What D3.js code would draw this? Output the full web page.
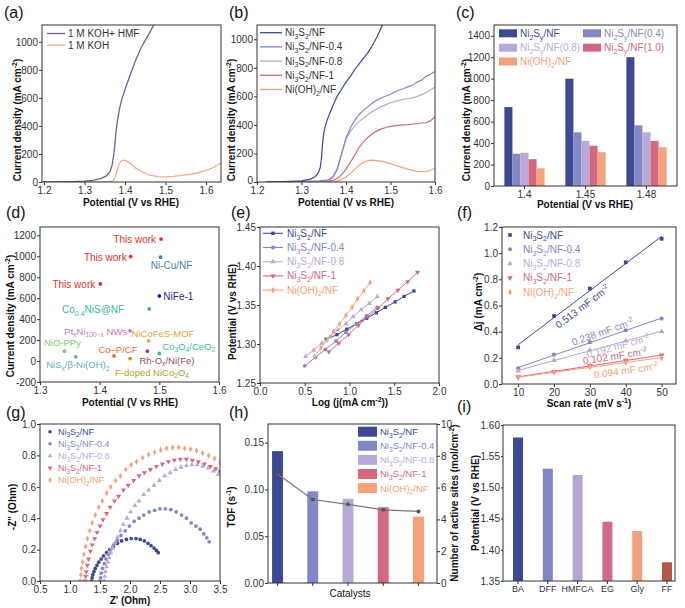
<!DOCTYPE html>
<html><head><meta charset="utf-8">
<script src="https://cdn.jsdelivr.net/npm/d3@7"></script>
<style>body{margin:0;background:#fff}svg{display:block}</style>
</head><body><svg id="chart" width="685" height="608"></svg>
<script>
// ================= DATA =================
// (a)
const aNames = ["1 M KOH+ HMF", "1 M KOH"];
const aHMF_V = [1.195,1.23,1.27,1.30,1.32,1.34,1.355,1.363,1.368,1.372,1.375,1.378,1.382,1.387,1.393,1.40,1.412,1.425,1.44,1.45,1.46,1.471];
const aHMF_J = [0,1,3,6,12,24,45,75,120,190,270,370,450,530,600,660,760,860,960,1010,1060,1120];
const aKOH_V = [1.195,1.25,1.30,1.34,1.36,1.37,1.375,1.38,1.385,1.39,1.396,1.403,1.41,1.42,1.43,1.445,1.46,1.48,1.50,1.52,1.54,1.56,1.58,1.60,1.62,1.637];
const aKOH_J = [0,0,0,1,3,8,30,80,125,148,155,150,138,115,92,68,50,38,36,40,48,55,66,82,105,135];

// (b)
const sNames = ["Ni_{3}S_{2}/NF","Ni_{3}S_{2}/NF-0.4","Ni_{3}S_{2}/NF-0.8","Ni_{3}S_{2}/NF-1","Ni(OH)_{2}/NF"];
const bV = [
  [1.22,1.26,1.30,1.32,1.33,1.337,1.342,1.345,1.347,1.350,1.355,1.362,1.370,1.380,1.390,1.400,1.410,1.420,1.430,1.440,1.450,1.460,1.470,1.482],
  [1.22,1.30,1.34,1.36,1.37,1.38,1.39,1.40,1.41,1.42,1.43,1.44,1.45,1.46,1.47,1.48,1.49,1.50,1.51,1.52,1.53,1.54,1.55,1.56,1.57,1.58,1.59,1.60],
  [1.22,1.30,1.34,1.36,1.37,1.38,1.39,1.40,1.41,1.42,1.43,1.44,1.45,1.46,1.47,1.48,1.49,1.50,1.51,1.52,1.53,1.54,1.55,1.56,1.57,1.58,1.59,1.60],
  [1.22,1.30,1.35,1.37,1.38,1.39,1.40,1.41,1.42,1.43,1.44,1.45,1.46,1.47,1.48,1.49,1.50,1.52,1.54,1.56,1.58,1.59,1.60],
  [1.22,1.30,1.36,1.38,1.39,1.40,1.41,1.42,1.43,1.44,1.45,1.46,1.47,1.48,1.49,1.50,1.52,1.54,1.56,1.58,1.60]
];
const bJ = [
  [0,3,8,20,35,60,100,170,260,340,410,470,530,600,650,700,740,790,830,870,910,960,1020,1100],
  [0,3,8,15,35,90,200,310,380,435,475,505,530,555,575,590,603,615,632,645,655,668,680,700,715,740,755,775],
  [0,2,6,12,28,80,190,300,355,395,425,450,475,495,512,528,542,555,565,572,580,585,590,600,612,625,645,665],
  [0,2,5,12,25,50,90,140,190,245,285,315,340,358,372,382,390,398,402,410,415,430,455],
  [0,1,3,8,18,35,60,90,118,140,150,153,150,145,138,128,108,88,75,72,95]
];

// (c)
const cCats = ["1.4","1.45","1.48"];
const cNames = ["Ni_{2}S_{y}/NF","Ni_{2}S_{y}/NF(0.4)","Ni_{2}S_{y}/NF(0.8)","Ni_{2}S_{y}/NF(1.0)","Ni(OH)_{2}/NF"];
const cVals = [[735,1000,1200],[300,500,565],[310,420,500],[250,375,420],[165,315,360]];

// (d)
const dNames = ["This work","This work","This work","Ni-Cu/NF","NiFe-1","Co_{0.4}NiS@NF","Pt_{x}Ni_{100−x} NWs","NiCoFeS-MOF","NiO-PPy","NiS_{x}/β-Ni(OH)_{2}","Co–P/CF","Rh-O_{x}/Ni(Fe)","Co_{3}O_{4}/CeO_{2}","F-doped NiCo_{2}O_{4}"];
const dPot = [1.503,1.452,1.401,1.502,1.50,1.483,1.451,1.482,1.341,1.36,1.424,1.48,1.50,1.451];
const dCur = [1165,998,736,992,621,497,289,193,94,40,49,94,72,24];

// (e)
const eX = [
  [0.74,0.86,0.97,1.08,1.19,1.30,1.40,1.51,1.61,1.72],
  [0.50,0.62,0.73,0.85,0.96,1.08,1.19,1.31],
  [0.51,0.60,0.69,0.78,0.87,0.96,1.04,1.13,1.22,1.31],
  [0.77,0.88,0.99,1.10,1.21,1.32,1.43,1.54,1.65,1.76],
  [0.61,0.68,0.75,0.82,0.89,0.96,1.03,1.09,1.16,1.23]
];
const eY = [
  [1.306,1.312,1.319,1.326,1.333,1.340,1.347,1.354,1.361,1.368],
  [1.272,1.283,1.293,1.304,1.315,1.326,1.336,1.347],
  [1.284,1.292,1.301,1.309,1.318,1.326,1.335,1.344,1.352,1.361],
  [1.290,1.301,1.312,1.324,1.335,1.346,1.358,1.369,1.380,1.392],
  [1.284,1.295,1.305,1.316,1.326,1.337,1.347,1.358,1.368,1.379]
];

// (f)
const fRate = [10,20,30,40,50];
const fDj = [
  [0.28,0.52,0.73,0.93,1.11],
  [0.12,0.225,0.32,0.41,0.50],
  [0.10,0.18,0.26,0.33,0.40],
  [0.055,0.095,0.14,0.18,0.22],
  [0.05,0.09,0.13,0.165,0.20]
];
const fCdl = ["0.513 mF cm^{-2}","0.238 mF cm^{-2}","0.192 mF cm^{-2}","0.102 mF cm^{-2}","0.094 mF cm^{-2}"];

// (g)
const gZre = [
  [1.36,1.37,1.38,1.40,1.42,1.45,1.48,1.52,1.56,1.61,1.66,1.72,1.79,1.86,1.94,2.02,2.10,2.17,2.24,2.30,2.35,2.40,2.44,2.47],
  [1.50,1.51,1.52,1.54,1.57,1.60,1.64,1.68,1.73,1.79,1.85,1.92,1.99,2.07,2.15,2.23,2.32,2.41,2.50,2.59,2.68,2.77,2.86,2.94,3.02,3.10,3.17,3.23,3.28,3.32],
  [1.57,1.58,1.59,1.61,1.63,1.65,1.68,1.71,1.75,1.79,1.84,1.89,1.95,2.01,2.08,2.15,2.23,2.31,2.40,2.49,2.58,2.67,2.76,2.85,2.94,3.03,3.12,3.21,3.30,3.39,3.47],
  [1.25,1.26,1.27,1.29,1.31,1.34,1.37,1.41,1.45,1.50,1.55,1.61,1.67,1.74,1.81,1.89,1.97,2.06,2.15,2.24,2.34,2.44,2.54,2.64,2.74,2.84,2.94,3.04,3.14,3.24,3.34,3.43,3.50],
  [1.17,1.18,1.19,1.21,1.23,1.26,1.29,1.33,1.37,1.42,1.48,1.54,1.61,1.68,1.76,1.84,1.93,2.02,2.11,2.21,2.31,2.41,2.51,2.61,2.71,2.81,2.91,3.01,3.11,3.21,3.31,3.41,3.50]
];
const gZim = [
  [0.00,0.02,0.04,0.06,0.08,0.10,0.12,0.14,0.16,0.18,0.20,0.22,0.24,0.255,0.265,0.27,0.27,0.265,0.255,0.24,0.225,0.21,0.195,0.18],
  [0.00,0.02,0.05,0.08,0.11,0.14,0.17,0.20,0.23,0.26,0.29,0.32,0.35,0.38,0.40,0.42,0.44,0.45,0.46,0.46,0.455,0.44,0.42,0.40,0.37,0.35,0.33,0.30,0.275,0.25],
  [0.00,0.03,0.06,0.09,0.12,0.15,0.18,0.21,0.245,0.28,0.32,0.36,0.40,0.44,0.48,0.51,0.55,0.58,0.61,0.64,0.67,0.69,0.71,0.725,0.735,0.74,0.74,0.73,0.72,0.70,0.68],
  [0.00,0.03,0.06,0.10,0.14,0.19,0.23,0.27,0.31,0.35,0.39,0.43,0.47,0.51,0.54,0.58,0.61,0.64,0.67,0.69,0.71,0.73,0.745,0.76,0.77,0.775,0.775,0.77,0.76,0.745,0.73,0.715,0.70],
  [0.00,0.04,0.08,0.12,0.17,0.22,0.27,0.32,0.37,0.42,0.47,0.51,0.56,0.60,0.64,0.67,0.71,0.74,0.76,0.785,0.805,0.82,0.835,0.845,0.85,0.85,0.845,0.84,0.83,0.815,0.80,0.78,0.755]
];

// (h)
const hTOF = [0.141,0.098,0.090,0.081,0.071];
const hSites = [6.85,5.25,4.95,4.6,4.5];

// (i)
const iCats = ["BA","DFF","HMFCA","EG","Gly","FF"];
const iPot = [1.58,1.53,1.52,1.445,1.43,1.38];

// ================= STYLE =================
const FONT = '"Liberation Sans", Arial, Helvetica, sans-serif';
const TFS = 10;
const C5 = ["#3d4a93","#8287c6","#b8aad7","#d4687f","#f5a27c"];
const aColors = ["#646a8e","#f8a98b"];
const iColors = ["#3c4a94","#8086c6","#b4a6d4","#d06a86","#f2a07e","#b0584a"];
const dColors = ["#d9342b","#d9342b","#d9342b","#4a7fa0","#1f2a8a","#3cb89a","#c678b8","#e8a040","#7ccc6a","#6aa8c8","#f26a3a","#9a4a50","#2fbf9a","#b0a21a"];
const dLab = [[-5,4,"end"],[-4,4,"end"],[-5,4,"end"],[11,12,"middle"],[4,4,"start"],[-25,4,"end"],[-3,4,"end"],[-17,-4,"start"],[-2,-5,"middle"],[2,11,"middle"],[4,-3,"middle"],[-8,12.5,"start"],[3,-4,"start"],[-15,17,"start"]];
const dFs = [10,10,10,10,10,10,9.5,9.5,9.5,9.5,9.5,9.5,9.5,9.5];
const syms = [d3.symbolSquare, d3.symbolCircle, d3.symbolTriangle, d3.symbolTriangle, d3.symbolDiamond];
const symRot = [0,0,0,180,0];

const svg = d3.select("#chart");

function rich(t, s, fs) {
  const parts = s.split(/(_\{[^}]*\}|\^\{[^}]*\})/).filter(p => p !== "");
  let cur = 0;
  parts.forEach(p => {
    let tx = p, off = 0, size = null;
    if (p.startsWith("_{")) { tx = p.slice(2, -1); off = fs * 0.28; size = fs * 0.7; }
    else if (p.startsWith("^{")) { tx = p.slice(2, -1); off = -fs * 0.38; size = fs * 0.7; }
    const ts = t.append("tspan").text(tx);
    if (off - cur !== 0) ts.attr("dy", off - cur);
    if (size) ts.attr("font-size", size);
    cur = off;
  });
  return t;
}
function txt(g, x, y, s, o = {}) {
  const size = o.size || 10;
  const t = g.append("text").attr("x", x).attr("y", y).attr("font-size", size)
    .attr("font-weight", o.weight || "normal").attr("text-anchor", o.anchor || "start")
    .attr("fill", o.fill || "#222").attr("font-family", FONT);
  if (o.rotate) t.attr("transform", `rotate(${o.rotate},${x},${y})`);
  return rich(t, s, size);
}
function ytitle(cx, cy, s, size = 10) {
  txt(svg, cx + size * 0.35, cy, s, {size, weight: "bold", anchor: "middle", rotate: -90, fill: "#111"});
}
function xtitle(cx, by, s, weight = "bold", size = 10) {
  txt(svg, cx, by, s, {size, weight, anchor: "middle", fill: "#111"});
}
function plabel(x, y, s) { txt(svg, x, y, s, {size: 16, fill: "#111"}); }

let clipId = 0;
function panel(L, T, R, B) {
  const g = svg.append("g").attr("transform", `translate(${L},${T})`);
  const w = R - L, h = B - T;
  const id = "clip" + (clipId++);
  g.append("clipPath").attr("id", id).append("rect").attr("width", w).attr("height", h);
  const plot = g.append("g").attr("clip-path", `url(#${id})`);
  return {g, plot, w, h};
}
function styleAxis(a, fs) {
  a.select(".domain").remove();
  a.selectAll("line").attr("stroke", "#333");
  a.selectAll("text").attr("font-size", fs).attr("fill", "#333").attr("font-family", FONT);
}
function axes(p, x, y, o) {
  const fs = o.fs || TFS;
  const gx = p.g.append("g").attr("transform", `translate(0,${p.h})`)
    .call(d3.axisBottom(x).tickValues(o.xt).tickFormat(o.xf).tickSize(3).tickPadding(2));
  const gy = p.g.append("g")
    .call(d3.axisLeft(y).tickValues(o.yt).tickFormat(o.yf).tickSize(o.ytick ?? 3).tickPadding(1));
  styleAxis(gx, o.xfs || fs); styleAxis(gy, fs);
  if (o.y0up) gy.selectAll(".tick text").filter(d => d === o.yt[0]).attr("dy", "0.1em");
  p.g.append("rect").attr("width", p.w).attr("height", p.h).attr("fill", "none").attr("stroke", "#333").attr("stroke-width", 1);
}
function sym(g, type, size, rot, x, y, color) {
  g.append("path").attr("d", d3.symbol().type(type).size(size)())
    .attr("transform", `translate(${x},${y}) rotate(${rot})`).attr("fill", color);
}
function zip(xs, ys) { return xs.map((v, i) => [v, ys[i]]); }

// ================= (a) =================
{
  const p = panel(42, 25, 221, 182);
  const x = d3.scaleLinear().domain([1.195, 1.637]).range([0, p.w]);
  const y = d3.scaleLinear().domain([0, 1120]).range([p.h, 0]);
  const line = d3.line().x(d => x(d[0])).y(d => y(d[1]));
  p.plot.append("path").attr("d", line(zip(aKOH_V, aKOH_J))).attr("fill", "none").attr("stroke", aColors[1]).attr("stroke-width", 1.3);
  p.plot.append("path").attr("d", line(zip(aHMF_V, aHMF_J))).attr("fill", "none").attr("stroke", aColors[0]).attr("stroke-width", 1.3);
  axes(p, x, y, {xt: [1.2,1.3,1.4,1.5,1.6], xf: d3.format(".1f"), yt: [0,200,400,600,800,1000], yf: d => d});
  aNames.forEach((n, i) => {
    const yy = 8.5 + i * 11.7;
    p.g.append("line").attr("x1", 5).attr("x2", 23).attr("y1", yy).attr("y2", yy).attr("stroke", aColors[i]).attr("stroke-width", 1.3);
    txt(p.g, 26, yy + 3.6, n, {size: 10, fill: "#333"});
  });
  plabel(4, 18, "(a)");
  ytitle(17, 120, "Current density (mA cm^{-2})");
  xtitle(131, 206, "Potential (V vs RHE)");
}

// ================= (b) =================
{
  const p = panel(257, 25, 435, 182);
  const x = d3.scaleLinear().domain([1.2, 1.6]).range([0, p.w]);
  const y = d3.scaleLinear().domain([0, 1100]).range([p.h, 0]);
  const line = d3.line().x(d => x(d[0])).y(d => y(d[1]));
  for (let s = 4; s >= 0; s--) {
    p.plot.append("path").attr("d", line(zip(bV[s], bJ[s]))).attr("fill", "none").attr("stroke", C5[s]).attr("stroke-width", 1.2);
  }
  axes(p, x, y, {xt: [1.2,1.3,1.4,1.5,1.6], xf: d3.format(".1f"), yt: [0,200,400,600,800,1000], yf: d => d, y0up: true});
  sNames.forEach((n, i) => {
    const yy = 7.7 + i * 14.2;
    p.g.append("line").attr("x1", 3).attr("x2", 25).attr("y1", yy).attr("y2", yy).attr("stroke", C5[i]).attr("stroke-width", 1.3);
    txt(p.g, 28, yy + 3.5, n, {size: 10, fill: "#333"});
  });
  plabel(229, 18, "(b)");
  ytitle(231, 120, "Current density (mA cm^{-2})");
  xtitle(346, 206, "Potential (V vs RHE)");
}

// ================= (c) =================
{
  const p = panel(494, 25, 677, 186);
  const x0 = d3.scaleBand().domain(cCats).range([0, p.w]).paddingInner(0.34).paddingOuter(0.17);
  const x1 = d3.scaleBand().domain(d3.range(5)).range([0, x0.bandwidth()]);
  const y = d3.scaleLinear().domain([0, 1500]).range([p.h, 0]);
  cVals.forEach((vals, s) => {
    vals.forEach((v, k) => {
      p.plot.append("rect").attr("x", x0(cCats[k]) + x1(s)).attr("width", x1.bandwidth())
        .attr("y", y(v)).attr("height", p.h - y(v)).attr("fill", C5[s]);
    });
  });
  axes(p, x0, y, {xt: cCats, xf: d => d, yt: [0,200,400,600,800,1000,1200,1400], yf: d => d});
  const pos = [[5,8.3],[89,8.3],[5,22.7],[89,22.7],[5,36.5]];
  cNames.forEach((n, i) => {
    p.g.append("rect").attr("x", pos[i][0]).attr("y", pos[i][1] - 4).attr("width", 18).attr("height", 8).attr("fill", C5[i]);
    txt(p.g, pos[i][0] + 21, pos[i][1] + 3.6, n, {size: 10, fill: C5[i]});
  });
  plabel(456, 18, "(c)");
  ytitle(466, 120, "Current density (mA cm^{-2})");
  xtitle(585, 208, "Potential (V vs RHE)");
}

// ================= (d) =================
{
  const p = panel(40, 227, 219, 382);
  const x = d3.scaleLinear().domain([1.3, 1.6]).range([0, p.w]);
  const y = d3.scaleLinear().domain([-200, 1280]).range([p.h, 0]);
  axes(p, x, y, {xt: [1.3,1.4,1.5,1.6], xf: d3.format(".1f"), yt: [-200,0,200,400,600,800,1000,1200], yf: d => String(d)});
  dNames.forEach((n, i) => {
    const px = x(dPot[i]), py = y(dCur[i]);
    p.g.append("circle").attr("cx", px).attr("cy", py).attr("r", 1.9).attr("fill", dColors[i]);
    txt(p.g, px + dLab[i][0], py + dLab[i][1], n, {size: dFs[i], fill: dColors[i], anchor: dLab[i][2]});
  });
  plabel(6, 218, "(d)");
  ytitle(10, 316, "Current density (mA cm^{-2})");
  xtitle(130, 406, "Potential (V vs RHE)");
}

// ================= (e) =================
{
  const p = panel(260, 227, 439, 383);
  const x = d3.scaleLinear().domain([0, 2]).range([0, p.w]);
  const y = d3.scaleLinear().domain([1.25, 1.45]).range([p.h, 0]);
  const line = d3.line().x(d => x(d[0])).y(d => y(d[1]));
  for (let s = 0; s < 5; s++) {
    p.plot.append("path").attr("d", line(zip(eX[s], eY[s]))).attr("fill", "none").attr("stroke", C5[s]).attr("stroke-width", 1);
    eX[s].forEach((v, k) => sym(p.plot, syms[s], 11, symRot[s], x(v), y(eY[s][k]), C5[s]));
  }
  axes(p, x, y, {xt: [0,0.5,1,1.5,2], xf: d3.format(".1f"), yt: [1.25,1.30,1.35,1.40,1.45], yf: d3.format(".2f")});
  sNames.forEach((n, i) => {
    const yy = 6.3 + i * 14.2;
    p.g.append("line").attr("x1", 3).attr("x2", 23).attr("y1", yy).attr("y2", yy).attr("stroke", C5[i]).attr("stroke-width", 1.1);
    sym(p.g, syms[i], 12, symRot[i], 13, yy, C5[i]);
    txt(p.g, 27, yy + 3.5, n, {size: 10, fill: C5[i]});
  });
  plabel(231, 218, "(e)");
  ytitle(232, 312, "Potential (V vs RHE)");
  xtitle(350, 406, "Log (j(mA cm^{-2}))");
}

// ================= (f) =================
{
  const p = panel(502, 227, 676, 384);
  const x = d3.scaleLinear().domain([5.5, 54]).range([0, p.w]);
  const y = d3.scaleLinear().domain([0, 1.2]).range([p.h, 0]);
  const annX = [27, 34.4, 37.9, 37.4, 39.8];
  const annOff = [9, -6, 3, -6, 8];
  for (let s = 0; s < 5; s++) {
    const xs = fRate, ys = fDj[s];
    const mx = d3.mean(xs), my = d3.mean(ys);
    const k = d3.sum(xs.map((v, i) => (v - mx) * (ys[i] - my))) / d3.sum(xs.map(v => (v - mx) ** 2));
    const b = my - k * mx;
    p.plot.append("line").attr("x1", x(10)).attr("x2", x(50)).attr("y1", y(k * 10 + b)).attr("y2", y(k * 50 + b))
      .attr("stroke", C5[s]).attr("stroke-width", 1);
    xs.forEach((v, i) => sym(p.plot, syms[s], 14, symRot[s], x(v), y(ys[i]), C5[s]));
    const ang = Math.atan2(y(k * 50 + b) - y(k * 10 + b), x(50) - x(10)) * 180 / Math.PI;
    const ax = x(annX[s]), ay = y(k * annX[s] + b);
    const rad = ang * Math.PI / 180;
    const cx = ax - Math.sin(rad) * annOff[s], cy = ay + Math.cos(rad) * annOff[s];
    txt(p.g, cx, cy + 3.5, fCdl[s], {size: 10, fill: C5[s], anchor: "middle", rotate: ang});
  }
  axes(p, x, y, {xt: [10,20,30,40,50], xf: d => d, yt: [0,0.2,0.4,0.6,0.8,1.0,1.2], yf: d3.format(".1f")});
  sNames.forEach((n, i) => {
    const yy = 8 + i * 14.3;
    sym(p.g, syms[i], 13, symRot[i], 8, yy, C5[i]);
    txt(p.g, 21, yy + 3.5, n, {size: 10, fill: C5[i]});
  });
  plabel(457, 218, "(f)");
  ytitle(478, 302, "Δj (mA cm^{-2})");
  xtitle(589, 407, "Scan rate (mV s^{-1})");
}

// ================= (g) =================
{
  const p = panel(40, 424, 220, 581);
  const x = d3.scaleLinear().domain([0.5, 3.5]).range([0, p.w]);
  const y = d3.scaleLinear().domain([0, 1.0]).range([p.h, 0]);
  for (let s = 0; s < 5; s++) {
    gZre[s].forEach((v, k) => sym(p.plot, syms[s === 0 ? 1 : s], 11, symRot[s], x(v), y(gZim[s][k]), C5[s]));
  }
  axes(p, x, y, {xt: [0.5,1,1.5,2,2.5,3,3.5], xf: d3.format(".1f"), yt: [0,0.2,0.4,0.6,0.8,1.0], yf: d3.format(".1f")});
  sNames.forEach((n, i) => {
    const yy = 7.7 + i * 12.1;
    sym(p.g, syms[i === 0 ? 1 : i], 10, symRot[i], 10, yy, C5[i]);
    txt(p.g, 18, yy + 3.2, n, {size: 9, fill: C5[i]});
  });
  plabel(6, 418, "(g)");
  ytitle(12, 507, "-Z'' (Ohm)");
  xtitle(130, 604, "Z' (Ohm)");
}

// ================= (h) =================
{
  const p = panel(268, 424, 437, 583);
  const x = d3.scaleBand().domain(d3.range(5)).range([0, p.w - 9]).paddingInner(0.69).paddingOuter(0.115);
  const y = d3.scaleLinear().domain([0, 0.17]).range([p.h, 0]);
  const yR = d3.scaleLinear().domain([0, 10]).range([p.h, 0]);
  hTOF.forEach((v, i) => {
    p.plot.append("rect").attr("x", x(i)).attr("width", x.bandwidth()).attr("y", y(v)).attr("height", p.h - y(v)).attr("fill", C5[i]);
  });
  const cx = i => x(i) + x.bandwidth() / 2;
  p.plot.append("path").attr("d", d3.line().x((d, i) => cx(i)).y(d => yR(d))(hSites)).attr("fill", "none").attr("stroke", "#777").attr("stroke-width", 1.2);
  hSites.forEach((v, i) => p.plot.append("circle").attr("cx", cx(i)).attr("cy", yR(v)).attr("r", 2).attr("fill", "#555"));
  axes(p, x, y, {xt: d3.range(5), xf: () => "", yt: [0,0.05,0.10,0.15], yf: d3.format(".2f")});
  const gr = p.g.append("g").attr("transform", `translate(${p.w},0)`).call(d3.axisRight(yR).tickValues([0,2,4,6,8,10]).tickSize(3).tickPadding(1));
  styleAxis(gr, TFS);
  sNames.forEach((n, i) => {
    const yy = 7.7 + i * 14.1;
    p.g.append("rect").attr("x", 90).attr("y", yy - 5).attr("width", 19).attr("height", 10).attr("fill", C5[i]);
    txt(p.g, 112, yy + 3.4, n, {size: 9.5, fill: C5[i]});
  });
  plabel(229, 418, "(h)");
  ytitle(231, 507, "TOF (s^{-1})");
  ytitle(454, 503, "Number of active sites (mol/cm^{-2})");
  xtitle(350, 597, "Catalysts", "normal", 10);
}

// ================= (i) =================
{
  const p = panel(503, 425, 675, 581);
  const x = d3.scaleBand().domain(iCats).range([0, p.w + 7]).paddingInner(0.664).paddingOuter(0.336);
  const y = d3.scaleLinear().domain([1.35, 1.60]).range([p.h, 0]);
  iPot.forEach((v, i) => {
    p.plot.append("rect").attr("x", x(iCats[i])).attr("width", x.bandwidth()).attr("y", y(v)).attr("height", p.h - y(v)).attr("fill", iColors[i]);
  });
  axes(p, x, y, {xt: iCats, xf: d => d, xfs: 9, ytick: 2, yt: [1.35,1.40,1.45,1.50,1.55,1.60], yf: d3.format(".2f")});
  plabel(457, 412, "(i)");
  ytitle(475, 503, "Potential (V vs RHE)");
}
</script></body></html>
